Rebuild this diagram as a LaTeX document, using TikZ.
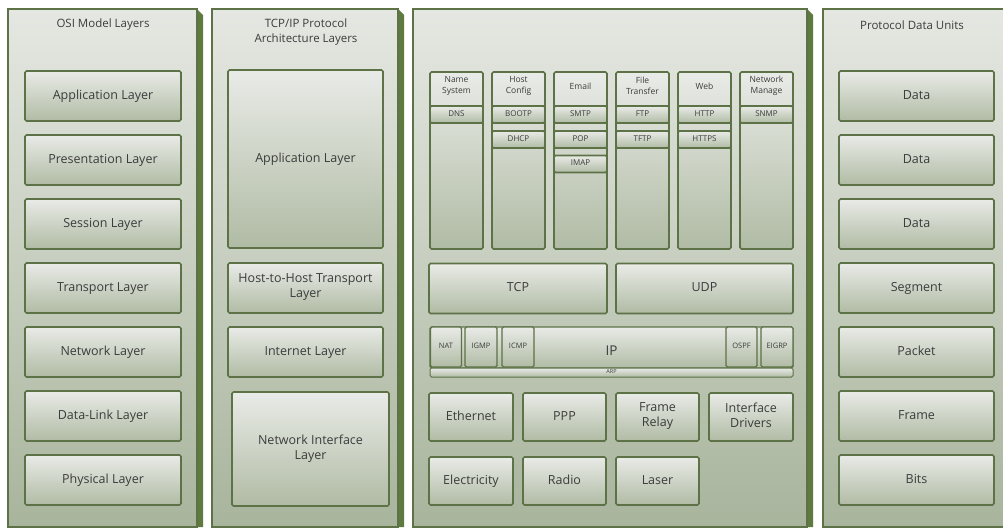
\documentclass[tikz,border=0pt]{standalone}
\usepackage{fontspec}
\setmainfont{Open Sans}

\definecolor{layerline}{HTML}{5D7246}
\definecolor{layershade}{HTML}{5F7A3E}
\definecolor{paneltop}{HTML}{E5E8E2}
\definecolor{panelbot}{HTML}{A8B49C}
\definecolor{boxtop}{HTML}{E9EBE7}
\definecolor{boxbot}{HTML}{B0BBA4}
\definecolor{labelgray}{HTML}{3C3C3C}

\begin{document}
\begin{tikzpicture}[x=1pt,y=-1pt,
  panel/.style={draw=layerline, line width=1.2pt, top color=paneltop, bottom color=panelbot},
  layerbox/.style={draw=layerline, line width=1.6pt, rounded corners=1.5pt, top color=boxtop, bottom color=boxbot,
    text=labelgray, align=center, inner sep=0pt, font=\fontsize{12.5}{15}\selectfont,
    execute at begin node=\strut, execute at end node=\strut},
  band/.style={layerbox, minimum width=53, minimum height=17, font=\fontsize{8}{9}\selectfont},
  smallbox/.style={layerbox, line width=1.2pt, minimum height=40, font=\fontsize{7.5}{8}\selectfont},
  title/.style={text=labelgray, align=center, font=\fontsize{11.5}{15}\selectfont},
  colhead/.style={text=labelgray, align=center, font=\fontsize{8.5}{10.5}\selectfont}]

\useasboundingbox (0,0) rectangle (1003,528);

% panels
\foreach \l/\r in {8/197, 212/398, 413/807, 823/1012} {
  \fill[layershade] (\r,9) -- (\r+6,15) -- (\r+6,527) -- (\r,527) -- cycle;
  \draw[panel] (\l,9) rectangle (\r,527);
}

\node[title] (osititle) at (103,25) {OSI Model Layers};
\node[title] (tcptitle) at (306,32) {TCP/IP Protocol\\Architecture Layers};
\node[title] (pdutitle) at (912,25) {Protocol Data Units};

% OSI model
\foreach \name/\txt [count=\i from 0] in {app/Application Layer, pres/Presentation Layer, sess/Session Layer,
    trans/Transport Layer, net/Network Layer, link/Data-Link Layer, phys/Physical Layer}
  \node[layerbox, minimum width=156, minimum height=50] (osi-\name) at (103,96+64*\i) {\txt};

% TCP/IP layers
\node[layerbox, minimum width=155, minimum height=178] (tcp-app) at (305.5,159) {Application Layer};
\node[layerbox, minimum width=155, minimum height=50] (tcp-host) at (305.5,288) {Host-to-Host Transport\\Layer};
\node[layerbox, minimum width=155, minimum height=50] (tcp-inet) at (305.5,352) {Internet Layer};
\node[layerbox, minimum width=157, minimum height=114] (tcp-netif) at (310.5,449) {Network Interface\\Layer};

% protocol columns
\foreach \name/\txt [count=\i from 0] in {name/Name\\System, host/Host\\Config, mail/Email,
    file/File\\Transfer, web/Web, mgmt/Network\\Manage} {
  \node[layerbox, minimum width=53, minimum height=177] (col-\name) at (456.5+62*\i,160.5) {};
  \node[colhead] (head-\name) at (456.5+62*\i,86) {\txt};
}
\node[band] (dns) at (456.5,114.5) {DNS};
\node[band] (bootp) at (518.5,114.5) {BOOTP};
\node[band] (dhcp) at (518.5,139.5) {DHCP};
\node[band] (smtp) at (580.5,114.5) {SMTP};
\node[band] (pop) at (580.5,139.5) {POP};
\node[band] (imap) at (580.5,164) {IMAP};
\node[band] (ftp) at (642.5,114.5) {FTP};
\node[band] (tftp) at (642.5,139.5) {TFTP};
\node[band] (http) at (704.5,114.5) {HTTP};
\node[band] (https) at (704.5,139.5) {HTTPS};
\node[band] (snmp) at (766.5,114.5) {SNMP};

\node[layerbox, minimum width=178, minimum height=50] (tcp) at (518,288.5) {TCP};
\node[layerbox, minimum width=177, minimum height=50] (udp) at (704.5,288.5) {UDP};

% internet row
\node[layerbox, line width=1.2pt, minimum width=363, minimum height=41, font=\fontsize{13.5}{15}\selectfont] (ip)
  at (611.5,347.5) {\raisebox{-5pt}{IP}};
\node[layerbox, line width=1pt, minimum width=363, minimum height=9, font=\fontsize{5.5}{6}\selectfont,
  execute at begin node={}, execute at end node={}] (arp) at (611.5,372.5) {ARP};
\node[smallbox, minimum width=31] (nat) at (446,347) {NAT};
\node[smallbox, minimum width=32] (igmp) at (481,347) {IGMP};
\node[smallbox, minimum width=32] (icmp) at (518,347) {ICMP};
\node[smallbox, minimum width=31] (ospf) at (741.5,347) {OSPF};
\node[smallbox, minimum width=32] (eigrp) at (777,347) {EIGRP};

% network access
\node[layerbox, minimum width=84, minimum height=48] (eth) at (471,417) {Ethernet};
\node[layerbox, minimum width=83, minimum height=48] (ppp) at (564.5,417) {PPP};
\node[layerbox, minimum width=83, minimum height=48] (frame) at (657.5,417) {Frame\\Relay};
\node[layerbox, minimum width=84, minimum height=48] (drivers) at (751,417) {Interface\\Drivers};
\node[layerbox, minimum width=84, minimum height=48] (elec) at (471,481) {Electricity};
\node[layerbox, minimum width=83, minimum height=48] (radio) at (564.5,481) {Radio};
\node[layerbox, minimum width=83, minimum height=48] (laser) at (657.5,481) {Laser};

% protocol data units
\foreach \name/\txt [count=\i from 0] in {data1/Data, data2/Data, data3/Data, seg/Segment,
    pkt/Packet, frm/Frame, bits/Bits}
  \node[layerbox, minimum width=155, minimum height=50] (pdu-\name) at (916.5,96+64*\i) {\txt};

\end{tikzpicture}
\end{document}
